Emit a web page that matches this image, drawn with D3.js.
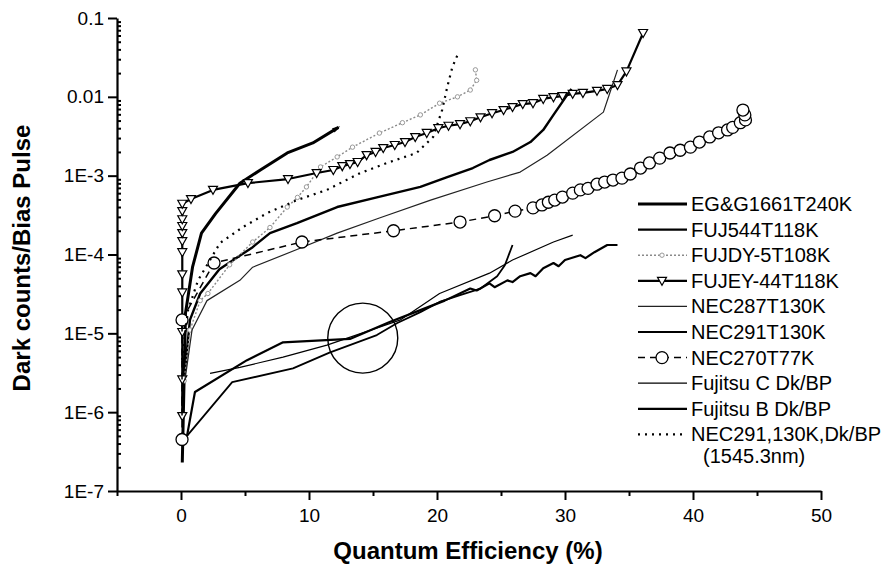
<!DOCTYPE html>
<html>
<head>
<meta charset="utf-8">
<script src="https://cdn.jsdelivr.net/npm/d3@7"></script>
<style>
  body { margin: 0; background: #fff; }
  text { font-family: Arial, "Liberation Sans", sans-serif; fill: #000; }
</style>
</head>
<body>
<div id="chart"></div>
<script>
// each series: [quantum efficiency (%), dark counts per bias pulse]
var egg1661 = [[0.1,2.3e-7],[0.25,3e-6],[0.35,1.8e-5],[0.9,6.9e-5],[1.6,1.87e-4],[2.7,3.3e-4],[4.6,8e-4],
  [6.2,1.18e-3],[8.3,1.94e-3],[10.3,2.6e-3],[12.3,4.1e-3]];
var fuj544 = [[0.1,1.2e-6],[0.23,2.5e-6],[0.7,1.48e-5],[1.5,3.2e-5],[3.0,6.5e-5],[5.6,1.24e-4],[6.95,1.87e-4],
  [9.06,2.5e-4],[12.2,4.0e-4],[15.3,5.3e-4],[18.7,7.2e-4],[20.8,9.6e-4],[22.8,1.25e-3],[24.1,1.58e-3],
  [25.9,2.0e-3],[27.3,2.67e-3],[28.3,3.8e-3],[29.1,5.9e-3],[30.5,1.26e-2]];
var fujdy5 = [[0.25,2.5e-6],[0.7,1.1e-5],[1.5,2.6e-5],[2.1,3.2e-5],[3.8,7.4e-5],[5.6,1.44e-4],[6.95,2.2e-4],
  [8.3,4.0e-4],[9.1,5.3e-4],[9.8,7.2e-4],[10.9,1.29e-3],[12.2,1.73e-3],[13.4,2.3e-3],[15.5,3.47e-3],
  [17.3,4.7e-3],[18.7,5.9e-3],[20.2,8.3e-3],[21.6,1.0e-2],[22.6,1.22e-2],[23.1,1.62e-2],[23.0,2.2e-2]];
var fujey44 = [[0.1,8.9e-7],[0.1,2.6e-6],[0.1,1.04e-5],[0.1,3.3e-5],[0.1,5.6e-5],[0.1,1.07e-4],[0.1,1.48e-4],
  [0.1,1.87e-4],[0.1,2.3e-4],[0.1,2.8e-4],[0.1,3.55e-4],[0.1,4.4e-4],[0.78,5.05e-4],[2.5,6.6e-4],
  [5.23,8.05e-4],[8.36,9.06e-4],[10.6,1.08e-3],[11.9,1.18e-3],[12.6,1.32e-3],[13.2,1.4e-3],[13.8,1.49e-3],
  [14.5,1.82e-3],[15.2,2.0e-3],[15.8,2.24e-3],[16.7,2.45e-3],[17.5,2.67e-3],[18.3,3.09e-3],[19.2,3.48e-3],
  [20.1,4.0e-3],[20.9,4.3e-3],[21.8,4.5e-3],[22.6,4.9e-3],[23.4,5.5e-3],[24.3,6.2e-3],[25.2,6.8e-3],
  [25.9,7.4e-3],[26.7,8.1e-3],[27.5,8.3e-3],[28.3,9.4e-3],[29.1,9.9e-3],[29.8,1.02e-2],[30.6,1.09e-2],
  [31.4,1.12e-2],[32.5,1.19e-2],[33.3,1.26e-2],[34.1,1.41e-2],[34.8,2.1e-2],[36.1,6.45e-2]];
var nec287 = [[0.31,2.55e-6],[0.86,1.1e-5],[2.03,2.6e-5],[4.6,4.7e-5],[5.6,6.9e-5],[9.3,1.2e-4],[12.2,1.87e-4],
  [15.5,2.9e-4],[19.5,4.9e-4],[23.9,8.3e-4],[26.5,1.11e-3],[28.6,1.82e-3],[33.0,6.4e-3],[33.5,1.12e-2],
  [34.1,2.2e-2]];
var nec291 = [[0.47,5.0e-7],[4.0,2.4e-6],[8.75,3.6e-6],[11.6,5.7e-6],[15.3,9.5e-6],[16.9,1.35e-5],
  [18.7,1.86e-5],[20.2,2.5e-5],[21.8,3.05e-5],[23.4,3.7e-5],[24.7,5.3e-5],[25.3,7.3e-5],[25.9,1.32e-4]];
var nec270 = [[0.08,4.5e-7],[0.08,1.48e-5],[2.58,7.8e-5],[9.45,1.44e-4],[16.6,2.0e-4],[21.8,2.58e-4],
  [24.5,3.1e-4],[26.1,3.55e-4],[27.5,3.9e-4],[28.2,4.25e-4],[28.7,4.6e-4],[29.2,4.9e-4],[29.8,5.35e-4],
  [30.6,6.0e-4],[31.2,6.6e-4],[31.8,6.9e-4],[32.5,7.8e-4],[33.1,8.3e-4],[33.75,8.8e-4],[34.45,9.3e-4],
  [35.1,1.05e-3],[35.9,1.25e-3],[36.6,1.45e-3],[37.4,1.67e-3],[38.2,1.94e-3],[39.0,2.1e-3],[39.8,2.3e-3],
  [40.5,2.67e-3],[41.3,3.1e-3],[42.0,3.5e-3],[42.7,3.8e-3],[43.1,4.1e-3],[43.7,4.7e-3],[44.1,5.1e-3],
  [44.05,5.9e-3],[43.9,6.8e-3]];
var fujitsuC = [[2.27,3.1e-6],[4.6,3.7e-6],[7.97,5.0e-6],[11.4,7.1e-6],[15.5,1.2e-5],[17.1,1.47e-5],
  [20.2,3.2e-5],[24.1,5.8e-5],[25.9,8.5e-5],[29.1,1.44e-4],[30.6,1.76e-4]];
var fujitsuB = [[0.47,5.0e-7],[1.09,1.8e-6],[5.16,4.57e-6],[7.97,7.7e-6],[13.2,8.5e-6],[16.3,1.39e-5],
  [18.7,1.97e-5],[20.6,2.6e-5],[22.6,3.7e-5],[23.1,3.5e-5],[24.1,4.3e-5],[24.5,3.85e-5],[25.5,4.7e-5],
  [25.9,4.47e-5],[26.5,5.3e-5],[27.3,5.8e-5],[27.7,5.3e-5],[28.3,6.7e-5],[29.1,7.8e-5],[29.5,7.1e-5],
  [30.0,8.5e-5],[31.2,9.8e-5],[31.6,9.0e-5],[32.3,1.07e-4],[33.3,1.32e-4],[34.1,1.32e-4]];
var nec291dk = [[0.08,4.6e-6],[0.55,1.97e-5],[1.33,4.7e-5],[3.05,1.4e-4],[4.84,2.23e-4],[6.72,3.35e-4],
  [9.06,4.9e-4],[11.4,6.6e-4],[14.0,1.08e-3],[16.1,1.45e-3],[18.4,1.94e-3],[19.7,3.1e-3],[20.4,6.8e-3],
  [20.8,1.33e-2],[21.2,2.39e-2],[21.6,3.39e-2]];

var legendLabels = ["EG&G1661T240K", "FUJ544T118K", "FUJDY-5T108K", "FUJEY-44T118K", "NEC287T130K",
  "NEC291T130K", "NEC270T77K", "Fujitsu C Dk/BP", "Fujitsu B Dk/BP", "NEC291,130K,Dk/BP"];
var legendNote = "(1545.3nm)";
var xTicks = [0, 10, 20, 30, 40, 50];
var xMinorTicks = [-5, 5, 15, 25, 35, 45];
var yTicks = [1e-7, 1e-6, 1e-5, 1e-4, 1e-3, 1e-2, 1e-1];
var yTickLabels = ["1E-7", "1E-6", "1E-5", "1E-4", "1E-3", "0.01", "0.1"];
var circleMark = [14.2, 8.7e-6]; // hand-drawn circle annotation

var W = 888, H = 572;
var margin = {top: 18, right: 67, bottom: 81, left: 117};

var x = d3.scaleLinear().domain([-5, 50]).range([margin.left, W - margin.right]);
var y = d3.scaleLog().domain([1e-7, 0.1]).range([H - margin.bottom, margin.top]);

var svg = d3.select("#chart").append("svg")
  .attr("width", W).attr("height", H);

// series styles
var series = [
  {data: egg1661, width: 3, color: "#000"},
  {data: fuj544, width: 2.4, color: "#000"},
  {data: fujdy5, width: 1.4, color: "#8a8a8a", dash: "2,2", marker: "dot"},
  {data: fujey44, width: 2.2, color: "#000", marker: "tri"},
  {data: nec287, width: 1.2, color: "#222"},
  {data: nec291, width: 1.8, color: "#000"},
  {data: nec270, width: 1.5, color: "#000", dash: "7,5", marker: "circle"},
  {data: fujitsuC, width: 1.2, color: "#000"},
  {data: fujitsuB, width: 2.2, color: "#000"},
  {data: nec291dk, width: 2.2, color: "#000", dash: "2,5"}
];

var line = d3.line()
  .x(function(d) { return x(d[0]); })
  .y(function(d) { return y(d[1]); });

var triPath = "M-4.5,-3.5L4.5,-3.5L0,4.5Z";

function drawMarker(g, kind, cx, cy) {
  if (kind === "tri") {
    g.append("path").attr("d", triPath)
      .attr("transform", "translate(" + cx + "," + cy + ")")
      .attr("fill", "#fff").attr("stroke", "#000").attr("stroke-width", 1.2);
  } else if (kind === "circle") {
    g.append("circle").attr("cx", cx).attr("cy", cy).attr("r", 6)
      .attr("fill", "#fff").attr("stroke", "#000").attr("stroke-width", 1.3);
  } else if (kind === "dot") {
    g.append("circle").attr("cx", cx).attr("cy", cy).attr("r", 2.2)
      .attr("fill", "#fff").attr("stroke", "#999").attr("stroke-width", 1);
  }
}

var plot = svg.append("g");

series.forEach(function(s) {
  plot.append("path")
    .attr("d", line(s.data))
    .attr("fill", "none")
    .attr("stroke", s.color)
    .attr("stroke-width", s.width)
    .attr("stroke-dasharray", s.dash || null)
    .attr("stroke-linejoin", "round");
  if (s.marker) {
    s.data.forEach(function(d) { drawMarker(plot, s.marker, x(d[0]), y(d[1])); });
  }
});

// little arrow head at the end of EG&G curve
var eLast = egg1661[egg1661.length - 1], ePrev = egg1661[egg1661.length - 2];
var ang = Math.atan2(y(eLast[1]) - y(ePrev[1]), x(eLast[0]) - x(ePrev[0])) * 180 / Math.PI;
plot.append("path").attr("d", "M-6,-2.5L2,0L-6,2.5Z")
  .attr("transform", "translate(" + x(eLast[0]) + "," + y(eLast[1]) + ") rotate(" + ang + ")")
  .attr("fill", "#000");

// annotation circle
plot.append("circle")
  .attr("cx", x(circleMark[0])).attr("cy", y(circleMark[1])).attr("r", 35)
  .attr("fill", "none").attr("stroke", "#000").attr("stroke-width", 1.4);

// Add the X Axis
svg.append("g")
  .attr("transform", "translate(0," + (H - margin.bottom) + ")")
  .call(d3.axisBottom(x).tickValues(xTicks).tickSize(9).tickSizeOuter(0).tickPadding(9));
svg.append("g")
  .attr("transform", "translate(0," + (H - margin.bottom) + ")")
  .call(d3.axisBottom(x).tickValues(xMinorTicks).tickSize(5).tickSizeOuter(0).tickFormat(""))
  .select(".domain").remove();

// Add the Y Axis
var minorY = [];
yTicks.slice(0, -1).forEach(function(t) {
  for (var k = 2; k < 10; k++) minorY.push(t * k);
});
svg.append("g")
  .attr("transform", "translate(" + margin.left + ",0)")
  .call(d3.axisLeft(y).tickValues(yTicks).tickSize(9).tickSizeOuter(0).tickPadding(4)
    .tickFormat(function(d, i) { return yTickLabels[i]; }));
svg.append("g")
  .attr("transform", "translate(" + margin.left + ",0)")
  .call(d3.axisRight(y).tickValues(minorY).tickSize(4).tickSizeOuter(0).tickFormat(""))
  .select(".domain").remove();

svg.selectAll(".domain").attr("stroke-width", 2.2);
svg.selectAll(".tick line").attr("stroke-width", 2);
svg.selectAll(".tick text").attr("font-size", 19).attr("font-family", "Arial, 'Liberation Sans', sans-serif");

// axis titles
svg.append("text")
  .attr("x", 468).attr("y", 559)
  .attr("text-anchor", "middle")
  .attr("font-size", 24).attr("font-weight", "bold")
  .text("Quantum Efficiency (%)");
svg.append("text")
  .attr("transform", "translate(30,258) rotate(-90)")
  .attr("text-anchor", "middle")
  .attr("font-size", 24).attr("font-weight", "bold")
  .text("Dark counts/Bias Pulse");

// legend
var lg = svg.append("g");
legendLabels.forEach(function(lab, i) {
  var s = series[i];
  var cy = 204 + i * 25.6;
  lg.append("line")
    .attr("x1", 638).attr("x2", 687).attr("y1", cy).attr("y2", cy)
    .attr("stroke", s.color).attr("stroke-width", s.width)
    .attr("stroke-dasharray", s.dash || null);
  if (s.marker) drawMarker(lg, s.marker, 662, cy);
  lg.append("text")
    .attr("x", 691).attr("y", cy + 7)
    .attr("font-size", 20)
    .text(lab);
});
lg.append("text")
  .attr("x", 703).attr("y", 204 + 10 * 25.6 + 3)
  .attr("font-size", 20)
  .text(legendNote);
</script>
</body>
</html>
